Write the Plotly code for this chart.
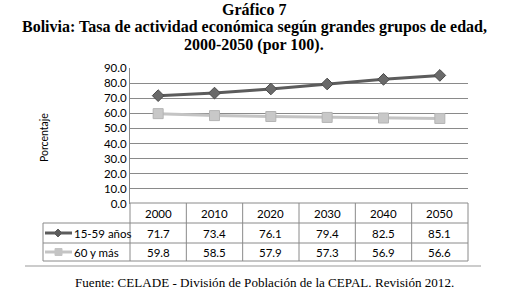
import plotly.graph_objects as go

years = ["2000", "2010", "2020", "2030", "2040", "2050"]
s1_name = "15-59 años"
s1 = [71.7, 73.4, 76.1, 79.4, 82.5, 85.1]
s2_name = "60 y más"
s2 = [59.8, 58.5, 57.9, 57.3, 56.9, 56.6]
yticks = [0, 10, 20, 30, 40, 50, 60, 70, 80, 90]

W, H = 509, 294
L, R, T, B = 130, 468, 68, 204  # plot area in pixels

def px(x):
    return (x - L) / (R - L)

def py(y):
    return (B - y) / (B - T)

def ann(text, x, y, font, xanchor="center", **kw):
    return dict(text=text, x=px(x), y=py(y), xref="paper", yref="paper", showarrow=False,
                xanchor=xanchor, yanchor="middle", font=font, **kw)

fig = go.Figure()
xs = list(range(len(years)))
fig.add_trace(go.Scatter(x=xs, y=s1, mode="lines+markers", name=s1_name,
                         line=dict(color="#5c5c5c", width=3),
                         marker=dict(symbol="diamond", size=9, color="#6a6a6a",
                                     line=dict(color="#4a4a4a", width=1))))
fig.add_trace(go.Scatter(x=xs, y=s2, mode="lines+markers", name=s2_name,
                         line=dict(color="#c4c4c4", width=3),
                         marker=dict(symbol="square", size=10, color="#c8c8c8",
                                     line=dict(color="#b4b4b4", width=1))))

shapes = []
annotations = []
grid = "#8a8a8a"
tbl_top, r1, r2, tbl_bot = 203, 223, 243, 261
tbl_left = 43
col_w = (R - L) / len(years)

def hline(x0, x1, y, color=grid):
    shapes.append(dict(type="line", xref="paper", yref="paper", x0=px(x0), x1=px(x1), y0=py(y), y1=py(y), line=dict(color=color, width=1)))

def vline(x, y0, y1):
    shapes.append(dict(type="line", xref="paper", yref="paper", x0=px(x), x1=px(x), y0=py(y0), y1=py(y1), line=dict(color=grid, width=1)))

hline(L, R, tbl_top)
for yy in (r1, r2, tbl_bot):
    hline(tbl_left, R, yy)
vline(tbl_left, r1, tbl_bot)
for i in range(len(years) + 1):
    vline(L + i * col_w, tbl_top, tbl_bot)
hline(25, 481, 266, "#999999")

cell_font = dict(family="Lato, Calibri, sans-serif", size=11.5, color="#000000")
for i, yr in enumerate(years):
    cx = L + (i + 0.5) * col_w
    annotations.append(ann(yr, cx, (tbl_top + r1) / 2 + 0.5, cell_font))
    annotations.append(ann(f"{s1[i]:.1f}", cx, (r1 + r2) / 2 + 0.5, cell_font))
    annotations.append(ann(f"{s2[i]:.1f}", cx, (r2 + tbl_bot) / 2 + 0.5, cell_font))

for name, yc, col, sym in ((s1_name, (r1 + r2) / 2, "#5c5c5c", "diamond"), (s2_name, (r2 + tbl_bot) / 2, "#c4c4c4", "square")):
    shapes.append(dict(type="line", xref="paper", yref="paper", x0=px(45), x1=px(72), y0=py(yc), y1=py(yc), line=dict(color=col, width=3)))
    if sym == "diamond":
        path = f"M {px(58)} {py(yc-4)} L {px(62)} {py(yc)} L {px(58)} {py(yc+4)} L {px(54)} {py(yc)} Z"
    else:
        path = f"M {px(55)} {py(yc-3.5)} L {px(62)} {py(yc-3.5)} L {px(62)} {py(yc+3.5)} L {px(55)} {py(yc+3.5)} Z"
    shapes.append(dict(type="path", xref="paper", yref="paper", path=path, fillcolor=col, line=dict(color=col, width=1)))
    annotations.append(ann(name, 72, yc + 0.5, cell_font, xanchor="left"))

annotations.append(ann("Porcentaje", 44, 137, dict(family="Lato, Calibri, sans-serif", size=10.5, color="#000"), textangle=-90))
tfont = dict(family="Liberation Serif, Times New Roman, serif", size=16, color="#000")
for txt, yy in (("<b>Gráfico 7</b>", 9.5), ("<b>Bolivia: Tasa de actividad económica según grandes grupos de edad,</b>", 27.5), ("<b>2000-2050 (por 100).</b>", 45.5)):
    annotations.append(ann(txt, 254, yy, tfont))
annotations.append(ann("Fuente: CELADE - División de Población de la CEPAL. Revisión 2012.", 264, 282,
                       dict(family="Liberation Serif, Times New Roman, serif", size=13.1, color="#000")))

fig.update_layout(
    width=W, height=H,
    margin=dict(l=L, r=W - R, t=T, b=H - B, pad=0),
    paper_bgcolor="white", plot_bgcolor="white",
    showlegend=False,
    shapes=shapes, annotations=annotations,
    xaxis=dict(range=[-0.5, 5.5], showticklabels=False, showgrid=False, zeroline=False, ticks=""),
    yaxis=dict(range=[0, 90], tickvals=yticks, tickformat=".1f", showgrid=True, gridcolor=grid, gridwidth=1,
               zeroline=False, showline=True, linecolor=grid, linewidth=1, ticks="", ticklen=0,
               tickfont=dict(family="Lato, Calibri, sans-serif", size=11.5, color="#000")),
)
fig.write_html("out.html", config={"displayModeBar": False},
               post_script="document.body.style.margin='0';document.body.style.overflow='hidden';")
